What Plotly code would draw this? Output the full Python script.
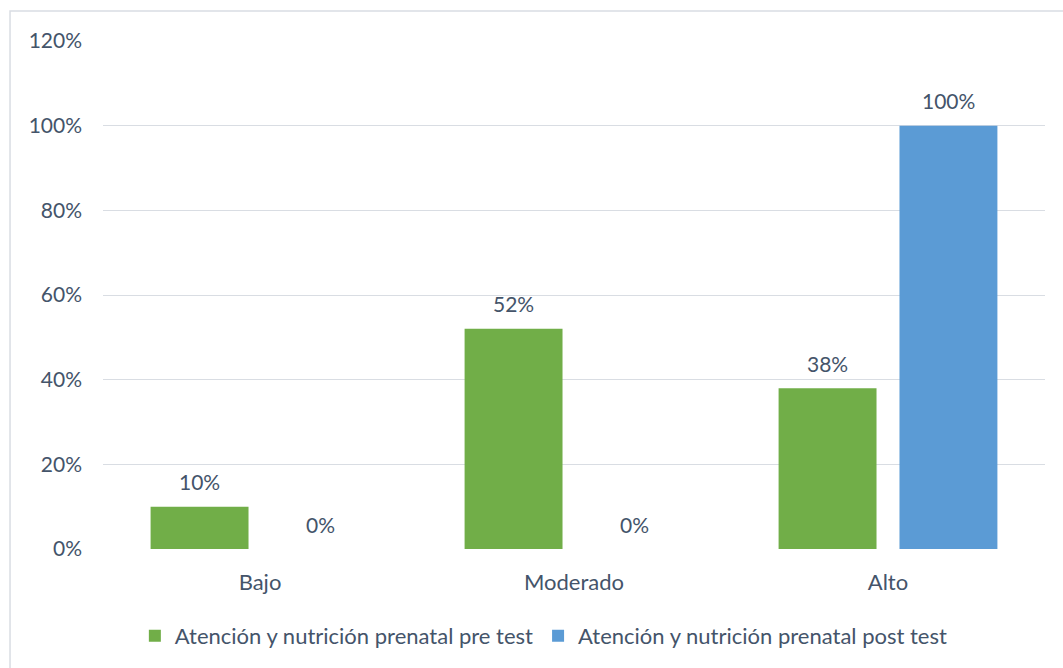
import plotly.graph_objects as go

categories = ["Bajo", "Moderado", "Alto"]
pre_test = [0.10, 0.52, 0.38]
post_test = [0.00, 0.00, 1.00]
series_names = ["Atención y nutrición prenatal pre test",
                "Atención y nutrición prenatal post test"]
series_colors = ["#71AE48", "#5B9BD5"]
y_ticks = [0, 0.2, 0.4, 0.6, 0.8, 1.0, 1.2]
y_tick_labels = ["0%", "20%", "40%", "60%", "80%", "100%", "120%"]

TEXT = "#44546A"
FONT = "Lato, Calibri, sans-serif"

W, H = 1063, 668
M = dict(l=103, r=18, t=41, b=118)
BARGAP = 0.23
BARGROUPGAP = 0.19

fig = go.Figure()
for name, vals, color in zip(series_names, [pre_test, post_test], series_colors):
    fig.add_trace(go.Bar(
        x=categories, y=vals, name=name,
        marker=dict(color=color, line=dict(width=0)),
        cliponaxis=False,
    ))

# value labels above each bar, centred on its slot in the group
plot_w = W - M["l"] - M["r"]
slot_px = plot_w / len(categories) * (1 - BARGAP) / 2
annotations = []
for j, vals in enumerate([pre_test, post_test]):
    for cat, v in zip(categories, vals):
        annotations.append(dict(
            x=cat, y=v, xref="x", yref="y",
            text=f"{v:.0%}", showarrow=False,
            xshift=(j - 0.5) * slot_px, yshift=25, yanchor="middle",
            font=dict(size=21, color=TEXT, family=FONT),
        ))

fig.update_layout(
    width=W, height=H,
    margin=M,
    paper_bgcolor="white", plot_bgcolor="white",
    barmode="group", bargap=BARGAP, bargroupgap=BARGROUPGAP,
    font=dict(family=FONT, size=21, color=TEXT),
    showlegend=True,
    legend=dict(orientation="h", x=0.468, xanchor="center", y=-0.169, yanchor="middle",
                font=dict(size=22, color=TEXT, family=FONT),
                itemwidth=30, traceorder="normal"),
    xaxis=dict(showgrid=False, zeroline=False, showline=False, ticks="",
               ticklabelstandoff=18,
               tickfont=dict(size=22, color=TEXT)),
    yaxis=dict(range=[0, 1.2], tickvals=y_ticks, ticktext=y_tick_labels,
               showgrid=True, gridcolor="#D9DDE3", gridwidth=1,
               zeroline=False, showline=False, ticks="",
               ticklabelstandoff=20,
               tickfont=dict(size=21, color=TEXT)),
    annotations=annotations,
    shapes=[dict(type="rect", xref="paper", yref="paper",
                 x0=-0.0987, x1=1.2, y0=-0.4, y1=1.059,
                 line=dict(color="#D9DDE3", width=1.5), layer="below")],
)

fig.write_html("out.html")
